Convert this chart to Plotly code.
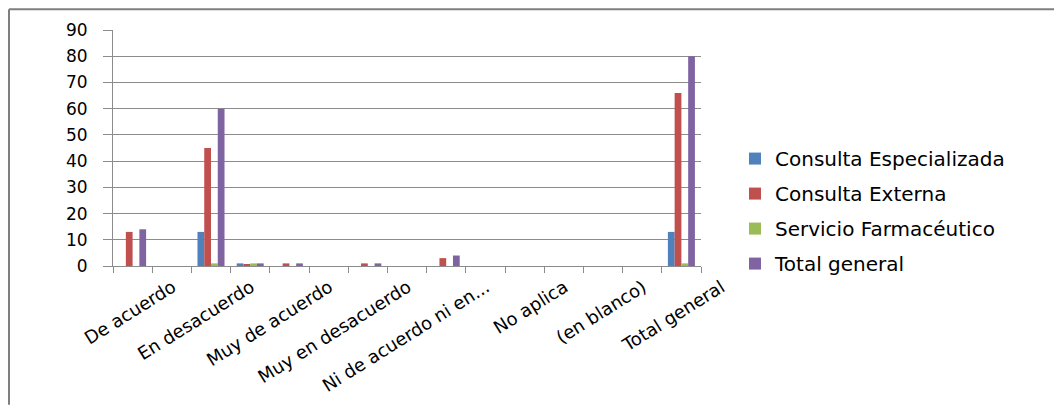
import plotly.graph_objects as go

# Categories (15 slots on the axis; every other one carries a visible label)
categories = [
    "De acuerdo", "De acuerdo ", "En desacuerdo", "En desacuerdo ",
    "Muy de acuerdo", "Muy de acuerdo ", "Muy en desacuerdo", "Muy en desacuerdo ",
    "Ni de acuerdo ni en desacuerdo", "Ni de acuerdo ni en desacuerdo ",
    "No aplica", "No aplica ", "(en blanco)", "(en blanco) ", "Total general",
]
tick_labels = [
    "De acuerdo", "", "En desacuerdo", "", "Muy de acuerdo", "", "Muy en desacuerdo", "",
    "Ni de acuerdo ni en...", "", "No aplica", "", "(en blanco)", "", "Total general",
]

consulta_especializada = [0, 0, 13, 1, 0, 0, 0, 0, 0, 0, 0, 0, 0, 0, 13]
consulta_externa = [13, 0, 45, 0.5, 1, 0, 1, 0, 3, 0, 0, 0, 0, 0, 66]
servicio_farmaceutico = [0, 0, 1, 1, 0, 0, 0, 0, 0, 0, 0, 0, 0, 0, 1]
total_general = [14, 0, 60, 1, 1, 0, 1, 0, 4, 0, 0, 0, 0, 0, 80]

series = [
    ("Consulta Especializada", consulta_especializada, "#4F81BD"),
    ("Consulta Externa", consulta_externa, "#C0504D"),
    ("Servicio Farmacéutico", servicio_farmaceutico, "#9BBB59"),
    ("Total general", total_general, "#8064A2"),
]

# page body has an 8px margin, so the figure starts at (8, 8) on screen
OFF = 8
W, H = 1062 - OFF, 408 - OFF
L, T = 113 - OFF, 30 - OFF
R = 1062 - 701
B = 408 - 268
pw = W - L - R
ph = H - T - B

fig = go.Figure()
for i, (name, vals, color) in enumerate(series):
    fig.add_trace(go.Bar(
        x=categories, y=vals, name=name, marker_color=color,
        marker_line_width=0, legendgroup=f"g{i}",
    ))

grid = "#8c8c8c"
fig.update_layout(
    width=W, height=H,
    margin=dict(l=L, r=R, t=T, b=B, pad=0),
    paper_bgcolor="white", plot_bgcolor="white",
    barmode="group", bargap=0.31, bargroupgap=0,
    font=dict(family="DejaVu Sans", color="#000000"),
    showlegend=True,
    legend=dict(
        x=(735 - 113) / pw, xanchor="left",
        y=1 - (140 - 30) / ph, yanchor="top",
        traceorder="grouped", tracegroupgap=6,
        font=dict(family="DejaVu Sans", size=20, color="#000000"),
        bgcolor="rgba(0,0,0,0)",
    ),
    xaxis=dict(
        type="category", categoryorder="array", categoryarray=categories,
        tickmode="array", tickvals=categories, ticktext=tick_labels,
        tickangle=-32, tickson="boundaries",
        ticks="outside", ticklen=6, tickcolor=grid, tickwidth=1,
        ticklabelshift=40, ticklabelstandoff=3,
        showline=True, linecolor=grid, linewidth=1,
        showgrid=False, zeroline=False,
        tickfont=dict(family="DejaVu Sans", size=18, color="#000000"),
    ),
    yaxis=dict(
        range=[0, 90], dtick=10, tick0=0,
        showgrid=True, gridcolor=grid, gridwidth=1,
        ticks="outside", ticklen=9, tickcolor=grid,
        showline=True, linecolor=grid, linewidth=1,
        zeroline=False, ticklabelstandoff=12,
        tickfont=dict(family="DejaVu Sans", size=17, color="#000000"),
    ),
    shapes=[
        dict(type="line", xref="paper", yref="paper",
             x0=-(L - 1) / pw, x1=(W - L) / pw, y0=1 + (T - 1) / ph, y1=1 + (T - 1) / ph,
             line=dict(color="#7f7f7f", width=2)),
        dict(type="line", xref="paper", yref="paper",
             x0=-(L - 1) / pw, x1=-(L - 1) / pw, y0=1 + (T - 1) / ph, y1=-B / ph,
             line=dict(color="#7f7f7f", width=2)),
    ],
)

fig.write_html("out.html")
